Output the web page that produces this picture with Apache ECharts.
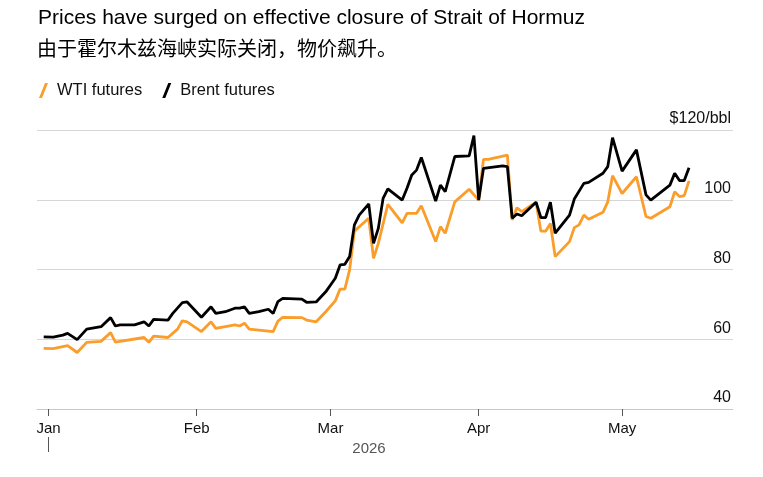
<!DOCTYPE html>
<html>
<head>
<meta charset="utf-8">
<script src="https://cdn.jsdelivr.net/npm/echarts@6/dist/echarts.min.js"></script>
<style>
html,body{margin:0;padding:0;background:#fff;}
#chart{width:763px;height:477px;}
</style>
</head>
<body>
<div id="chart"></div>
<script>
// ---- Data ----
const titleText = 'Prices have surged on effective closure of Strait of Hormuz';
const subtitleText = '由于霍尔木兹海峡实际关闭，物价飙升。';
const seriesNames = ['WTI futures', 'Brent futures'];
const monthLabels = ['Jan', 'Feb', 'Mar', 'Apr', 'May'];
const monthTickDates = ['2026-01-01', '2026-02-01', '2026-03-01', '2026-04-01', '2026-05-01'];
const yearLabel = '2026';
const yearTickDates = ['2026-01-01'];
const yTickValues = [40, 60, 80, 100, 120];

const wtiDates = ['2025-12-31','2026-01-02','2026-01-05','2026-01-07','2026-01-09','2026-01-12','2026-01-14','2026-01-15','2026-01-21','2026-01-22','2026-01-23','2026-01-26','2026-01-28','2026-01-29','2026-01-30',
'2026-02-02','2026-02-04','2026-02-05','2026-02-09','2026-02-10','2026-02-11','2026-02-12','2026-02-17','2026-02-18','2026-02-19','2026-02-23','2026-02-24','2026-02-26','2026-02-28',
'2026-03-02','2026-03-03','2026-03-04','2026-03-05','2026-03-06','2026-03-09','2026-03-10','2026-03-11','2026-03-13','2026-03-16','2026-03-17','2026-03-19','2026-03-20','2026-03-23','2026-03-24','2026-03-25','2026-03-27','2026-03-30',
'2026-04-01','2026-04-02','2026-04-03','2026-04-07','2026-04-08','2026-04-09','2026-04-10','2026-04-13','2026-04-14','2026-04-15','2026-04-16','2026-04-17','2026-04-20','2026-04-21','2026-04-22','2026-04-23','2026-04-24','2026-04-27','2026-04-28','2026-04-29',
'2026-05-01','2026-05-04','2026-05-06','2026-05-07','2026-05-11','2026-05-12','2026-05-13','2026-05-14','2026-05-15'];
const wtiValues = [57.4,57.3,58.2,56.2,59.1,59.4,61.9,59.2,60.5,59.1,60.9,60.5,62.9,65.3,65.0,
62.2,65.0,63.1,64.1,63.8,64.6,62.9,62.2,65.2,66.3,66.2,65.5,65.0,67.9,
71.0,74.4,74.4,79.9,91.0,94.7,83.2,87.5,98.7,93.4,96.1,96.1,98.3,88.0,92.3,90.4,99.4,103.0,
99.9,111.6,111.6,112.8,94.2,97.7,96.6,99.3,91.0,91.0,93.2,83.7,88.0,92.0,92.8,95.6,94.4,96.4,99.4,106.9,
101.8,106.6,95.2,94.7,98.0,102.3,100.9,101.2,105.4];

const brentDates = ['2025-12-31','2026-01-02','2026-01-04','2026-01-05','2026-01-07','2026-01-09','2026-01-12','2026-01-14','2026-01-15','2026-01-16','2026-01-19','2026-01-21','2026-01-22','2026-01-23','2026-01-26','2026-01-27','2026-01-29','2026-01-30',
'2026-02-02','2026-02-04','2026-02-05','2026-02-07','2026-02-09','2026-02-10','2026-02-11','2026-02-12','2026-02-14','2026-02-16','2026-02-17','2026-02-18','2026-02-19','2026-02-23','2026-02-24','2026-02-26','2026-02-28',
'2026-03-02','2026-03-03','2026-03-04','2026-03-05','2026-03-06','2026-03-07','2026-03-09','2026-03-10','2026-03-11','2026-03-12','2026-03-13','2026-03-16','2026-03-17','2026-03-18','2026-03-19','2026-03-20','2026-03-23','2026-03-24','2026-03-25','2026-03-27','2026-03-30','2026-03-31',
'2026-04-01','2026-04-02','2026-04-06','2026-04-07','2026-04-08','2026-04-09','2026-04-10','2026-04-13','2026-04-14','2026-04-15','2026-04-16','2026-04-17','2026-04-20','2026-04-21','2026-04-23','2026-04-24','2026-04-27','2026-04-28','2026-04-29',
'2026-05-01','2026-05-04','2026-05-06','2026-05-07','2026-05-11','2026-05-12','2026-05-13','2026-05-14','2026-05-15'];
const brentValues = [60.7,60.6,61.2,61.7,59.9,62.9,63.6,66.2,63.8,64.1,64.1,65.0,63.8,65.7,65.5,67.4,70.5,70.7,
66.3,69.3,67.4,67.9,68.9,68.9,69.3,67.4,67.9,68.6,67.4,70.8,71.7,71.5,70.6,70.7,73.6,
77.5,81.3,81.5,83.7,92.8,95.6,98.8,87.5,91.8,100.4,103.1,99.9,103.3,107.1,108.5,112.1,99.6,104.2,102.3,112.4,112.6,118.4,
99.9,109.0,109.7,109.5,94.7,95.9,95.4,99.3,94.9,94.9,99.3,90.4,95.6,100.2,104.7,105.0,107.6,109.5,117.8,
108.2,114.3,101.4,99.9,104.2,107.6,105.5,105.5,109.2];

// ---- Helpers ----
function toTime(s) {
  const p = s.split('-').map(Number);
  return new Date(p[0], p[1] - 1, p[2]).getTime();
}
const DAY = 86400000;
const monthTicks = monthTickDates.map(toTime);
const yearTicks = yearTickDates.map(toTime);
const xMin = toTime('2026-01-01') - 2.4 * DAY;
const xMax = toTime('2026-01-01') + 143.2 * DAY;

const wtiData = wtiDates.map((d, i) => [toTime(d), wtiValues[i]]);
const brentData = brentDates.map((d, i) => [toTime(d), brentValues[i]]);

const FONT = '"Liberation Sans", Arial, Helvetica, sans-serif';
const chart = echarts.init(document.getElementById('chart'), null, { renderer: 'canvas' });

chart.setOption({
  animation: false,
  backgroundColor: '#ffffff',
  textStyle: { fontFamily: FONT },
  title: [
    {
      text: titleText, left: 33, top: 3,
      textStyle: { fontFamily: FONT, fontSize: 21, fontWeight: 'normal', color: '#000' }
    },
    {
      text: subtitleText, left: 32, top: 33,
      textStyle: { fontFamily: '"Noto Sans CJK SC", sans-serif', fontSize: 20, fontWeight: 'normal', color: '#000' }
    }
  ],
  legend: {
    left: 34, top: 77,
    itemWidth: 9, itemHeight: 15, itemGap: 20,
    icon: 'path://M0,15 L6,0 L9,0 L3,15 Z',
    textStyle: { fontFamily: FONT, fontSize: 16.5, color: '#111', padding: [0, 0, 0, 4] },
    data: seriesNames
  },
  grid: { left: 37, right: 30, top: 130, bottom: 68, containLabel: false },
  xAxis: [
    {
      type: 'value', min: xMin, max: xMax,
      axisLine: { show: true, lineStyle: { color: '#c8c8c8', width: 1 } },
      axisTick: { show: true, customValues: monthTicks, length: 7, lineStyle: { color: '#555', width: 1 } },
      axisLabel: {
        customValues: monthTicks, margin: 12,
        fontFamily: FONT, fontSize: 15, color: '#111',
        formatter: function (v) {
          const idx = monthTicks.indexOf(v);
          return idx >= 0 ? monthLabels[idx] : '';
        }
      },
      splitLine: { show: false },
      name: yearLabel, nameLocation: 'middle', nameGap: 31,
      nameTextStyle: { fontFamily: FONT, fontSize: 15, color: '#555', padding: [0, 32, 0, 0] }
    },
    {
      type: 'value', min: xMin, max: xMax, position: 'bottom', offset: 28,
      axisLine: { show: false },
      axisTick: { show: true, customValues: yearTicks, length: 15, lineStyle: { color: '#555', width: 1 } },
      axisLabel: { show: false },
      splitLine: { show: false }
    }
  ],
  yAxis: {
    type: 'value', position: 'right', min: 40, max: 120, interval: 20,
    axisLine: { show: false },
    axisTick: { show: false },
    axisLabel: {
      inside: true, margin: 2, verticalAlign: 'bottom',
      fontFamily: FONT, fontSize: 16, color: '#111', padding: [0, 0, 3, 0],
      formatter: function (v) { return v === yTickValues[yTickValues.length - 1] ? '$' + v + '/bbl' : String(v); }
    },
    splitLine: { show: true, lineStyle: { color: '#d6d6d6', width: 1 } }
  },
  series: [
    {
      name: seriesNames[0], type: 'line', data: wtiData, showSymbol: false,
      color: '#fb9d2b', itemStyle: { color: '#fb9d2b' },
      lineStyle: { color: '#fb9d2b', width: 2.8 }, z: 2
    },
    {
      name: seriesNames[1], type: 'line', data: brentData, showSymbol: false,
      color: '#000000', itemStyle: { color: '#000000' },
      lineStyle: { color: '#000000', width: 2.8 }, z: 3
    }
  ]
});
</script>
</body>
</html>
